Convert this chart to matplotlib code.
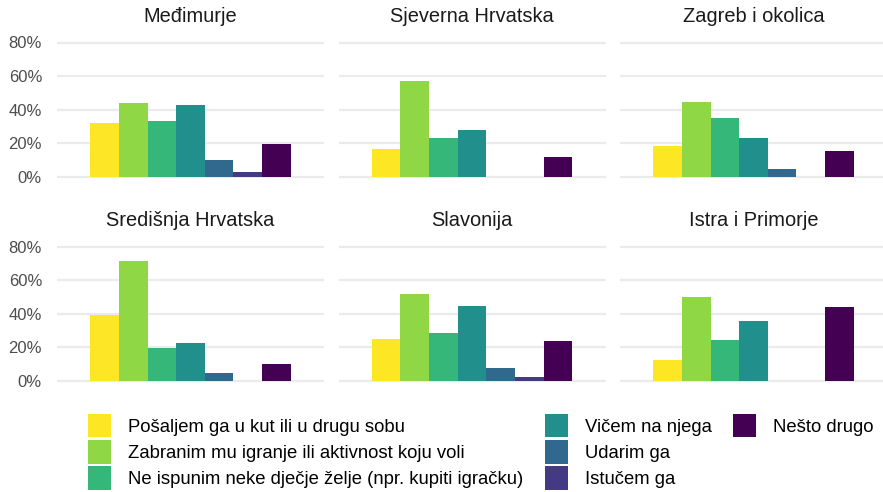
import numpy as np
import matplotlib.pyplot as plt
from matplotlib.patches import Patch

plt.rcParams['font.family'] = ['Liberation Sans', 'DejaVu Sans']

regije = ['Međimurje', 'Sjeverna Hrvatska', 'Zagreb i okolica',
          'Središnja Hrvatska', 'Slavonija', 'Istra i Primorje']

odgovori = ['Pošaljem ga u kut ili u drugu sobu',
            'Zabranim mu igranje ili aktivnost koju voli',
            'Ne ispunim neke dječje želje (npr. kupiti igračku)',
            'Vičem na njega',
            'Udarim ga',
            'Istučem ga',
            'Nešto drugo']

boje = ['#FDE725', '#8FD744', '#35B779', '#21908C', '#31688E', '#443A83', '#440154']

# udio odgovora po regiji (None = nitko nije odabrao)
medimurje = [0.320, 0.440, 0.332, 0.428, 0.100, 0.028, 0.195]
sjeverna = [0.165, 0.571, 0.231, 0.279, None, None, 0.117]
zagreb = [0.183, 0.446, 0.350, 0.231, 0.046, None, 0.153]
sredisnja = [0.392, 0.714, 0.195, 0.225, 0.046, None, 0.100]
slavonija = [0.251, 0.517, 0.285, 0.446, 0.076, 0.022, 0.237]
istra = [0.123, 0.501, 0.245, 0.358, None, None, 0.442]

podaci = [medimurje, sjeverna, zagreb, sredisnja, slavonija, istra]

W, H = 883, 492
fig = plt.figure(figsize=(W / 100, H / 100), dpi=100)

lefts = [57, 338.5, 620]
tops = [35.8, 240.0]
pw, ph = 267, 147.4

sirina = 0.9 / len(odgovori)

for k, (regija, vrijednosti) in enumerate(zip(regije, podaci)):
    red, stupac = divmod(k, 3)
    ax = fig.add_axes([lefts[stupac] / W, (H - tops[red] - ph) / H, pw / W, ph / H])

    for i, v in enumerate(vrijednosti):
        if v is None:
            continue
        x = 1 + (i - 3) * sirina
        ax.bar(x, v, width=sirina, color=boje[i], linewidth=0, zorder=2)

    ax.set_xlim(0.4, 1.6)
    ax.set_ylim(-0.04, 0.84)
    ax.set_yticks([0, 0.2, 0.4, 0.6, 0.8])
    if stupac == 0:
        ax.set_yticklabels(['0%', '20%', '40%', '60%', '80%'])
    else:
        ax.set_yticklabels([])
    ax.set_xticks([])
    ax.tick_params(axis='y', length=0, pad=10.8, labelsize=12, labelcolor='#4D4D4D')
    ax.grid(axis='y', color='#EBEBEB', linewidth=1.6, zorder=0)
    for s in ax.spines.values():
        s.set_visible(False)
    ax.set_facecolor('none')
    ax.set_title(regija, fontsize=14.4, color='#1A1A1A', pad=10.2)

# legenda: 3 stupca po 3 reda, zadnji stupac ima samo jednu stavku
ruke = [Patch(facecolor=c, edgecolor='none') for c in boje]
ruke += [Patch(visible=False), Patch(visible=False)]
oznake = odgovori + ['', '']
fig.legend(ruke, oznake, loc='upper left',
           bbox_to_anchor=(88 / W, (H - 414) / H),
           ncol=3, frameon=False, fontsize=13.3,
           handlelength=1.27, handleheight=1.57, handletextpad=0.9,
           labelspacing=0.15, columnspacing=1.15,
           borderpad=0, borderaxespad=0)

fig.savefig('out.png', dpi=100, facecolor='white')
